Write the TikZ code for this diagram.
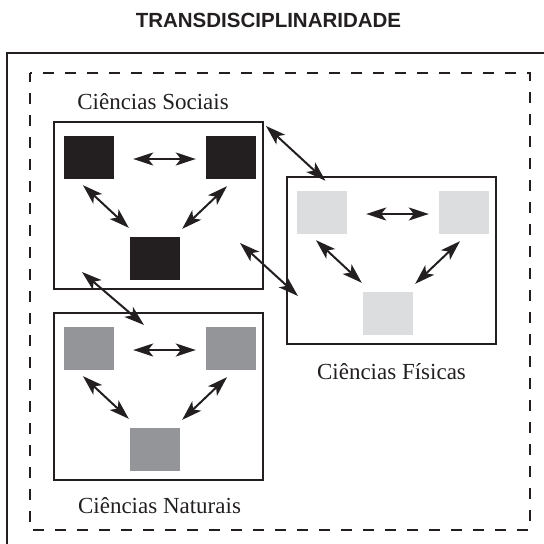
\documentclass[tikz,border=0pt]{standalone}
\usepackage{fontspec}
\setmainfont{Liberation Serif}
\setsansfont{Liberation Sans}
\usetikzlibrary{positioning,arrows.meta}

\definecolor{preto}{HTML}{231F20}
\definecolor{cinza}{HTML}{939598}
\definecolor{cinzaclaro}{HTML}{DCDDDE}

\tikzset{
  caixa/.style={draw=preto,line width=2pt,minimum width=209pt,minimum height=167pt,inner sep=0pt},
  quadrado/.style={minimum width=50pt,minimum height=43pt,inner sep=0pt},
  ponta/.tip={Stealth[length=20pt,width=13pt,inset=5pt]},
  seta/.style={preto,line width=2pt,ponta-ponta},
  rotulo/.style={preto,anchor=base,inner sep=0pt,font=\fontsize{23}{27}\selectfont},
  titulo/.style={preto,anchor=base,inner sep=0pt,font=\sffamily\bfseries\fontsize{20.5}{24}\selectfont}
}

\begin{document}
\begin{tikzpicture}[x=1pt,y=-1pt]
\useasboundingbox (0,0) rectangle (544,544);
\node[titulo] (titulo) at (268.5,27) {TRANSDISCIPLINARIDADE};
% moldura e limite tracejado
\draw[preto,line width=2.5pt] (7,53) rectangle (580,580);
\draw[preto,line width=2.2pt,dash pattern=on 11pt off 11pt,dash phase=2pt] (30,73) rectangle (530,530);
% as tres areas
\foreach \g/\x/\y/\cor in {soc/54/122/preto, fis/287/177/cinzaclaro, nat/54/313/cinza}{
  \begin{scope}[shift={(\x,\y)}]
    \node[caixa] (\g-box) at (104.5,83.5) {};
    \node[quadrado,fill=\cor] (\g-a) at (34.5,35.5) {};
    \node[quadrado,fill=\cor] (\g-b) at (176.5,35.5) {};
    \node[quadrado,fill=\cor] (\g-c) at (101,136) {};
    \draw[seta] ([shift={(19.5,1.5)}]\g-a.east) -- ([shift={(-9.5,1.5)}]\g-b.west);
    \draw[seta] ([shift={(-5.5,6)}]\g-a.south) -- ([shift={(-1,-8.5)}]\g-c.north west);
    \draw[seta] ([shift={(-3.5,7)}]\g-b.south) -- ([shift={(2,-7.5)}]\g-c.north east);
  \end{scope}
}
% ligacoes entre areas
\draw[seta] ([shift={(2,5)}]soc-box.north east) -- ([shift={(4,-10)}]fis-a.north);
\draw[seta] ([shift={(-24,-47)}]soc-box.south east) -- ([shift={(12,35.5)}]fis-box.west);
\draw[seta] ([shift={(29,-18)}]soc-box.south west) -- ([shift={(-14.5,13)}]nat-box.north);
% rotulos
\node[rotulo] (rsoc) at ([shift={(-5.5,-12)}]soc-box.north) {Ciências Sociais};
\node[rotulo] (rfis) at ([shift={(0,34)}]fis-box.south) {Ciências Físicas};
\node[rotulo] (rnat) at ([shift={(1,32)}]nat-box.south) {Ciências Naturais};
\end{tikzpicture}
\end{document}
